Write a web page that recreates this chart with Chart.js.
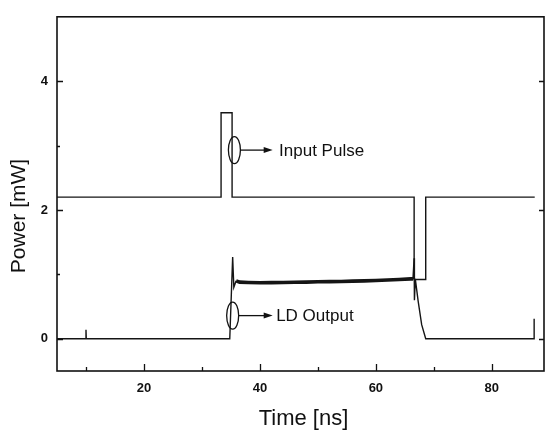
<!DOCTYPE html>
<html>
<head>
<meta charset="utf-8">
<title>Input Pulse / LD Output</title>
<script src="https://cdn.jsdelivr.net/npm/chart.js@4.4.1/dist/chart.umd.min.js"></script>
<style>
    body { margin: 0; background: #fff; }
    #wrap { width: 545px; height: 433px; }
</style>
</head>
<body>
<div id="wrap"><canvas id="pulseChart" width="545" height="433"></canvas></div>
<script>
// Axis ticks
const xTicks = [20, 40, 60, 80];
const xMinorTicks = [10, 30, 50, 70];
const yTicks = [0, 2, 4];
const yMinorTicks = [1, 3];

// Input pulse (square wave, mW vs ns)
const inputTime  = [5, 33.3, 33.3, 35.2, 35.2, 66.6, 66.6, 68.6, 68.6, 87.4];
const inputPower = [2.2, 2.2, 3.51, 3.51, 2.2, 2.2, 0.92, 0.92, 2.2, 2.2];

// LD output
const ldTime = [
    5, 9.95, 10, 10.05, 34.8, 35.3, 35.5, 35.9,
    36.5, 38, 40, 42, 44, 46, 48, 50, 52, 54, 56, 58, 60, 62, 64, 66,
    66.4, 66.6, 66.65, 66.8, 67.3, 67.9, 68.6, 87.3, 87.3
];
const ldPower = [
    0, 0, 0.14, 0, 0, 1.27, 0.8, 0.9,
    0.88, 0.875, 0.87, 0.872, 0.875, 0.878, 0.88, 0.885, 0.888, 0.89, 0.895, 0.9, 0.905, 0.912, 0.92, 0.93,
    0.93, 1.25, 0.6, 0.93, 0.58, 0.22, 0, 0, 0.31
];

// Annotation callouts (data coordinates)
const callouts = [
    { text: "Input Pulse", x: 35.6, y: 2.93, arrowTo: 42.2, textAt: 43.3 },
    { text: "LD Output",   x: 35.3, y: 0.36, arrowTo: 42.2, textAt: 42.8 }
];

const toPoints = (xs, ys) => xs.map((x, i) => ({ x: x, y: ys[i] }));

// Frame, inward ticks, callouts and axis titles
const decorations = {
    id: "decorations",
    afterDraw(chart) {
        const ctx = chart.ctx;
        const area = chart.chartArea;
        const xs = chart.scales.x;
        const ys = chart.scales.y;
        ctx.save();
        ctx.strokeStyle = "#111";
        ctx.fillStyle = "#111";

        // frame
        ctx.lineWidth = 1.6;
        ctx.strokeRect(area.left, area.top, area.right - area.left, area.bottom - area.top);

        // ticks
        ctx.lineWidth = 1.3;
        ctx.beginPath();
        xTicks.forEach(v => {
            const px = Math.round(xs.getPixelForValue(v)) + 0.5;
            ctx.moveTo(px, area.bottom); ctx.lineTo(px, area.bottom - 7);
        });
        xMinorTicks.forEach(v => {
            const px = Math.round(xs.getPixelForValue(v)) + 0.5;
            ctx.moveTo(px, area.bottom); ctx.lineTo(px, area.bottom - 4);
        });
        yTicks.forEach(v => {
            const py = Math.round(ys.getPixelForValue(v)) + 0.5;
            ctx.moveTo(area.left, py); ctx.lineTo(area.left + 6, py);
            ctx.moveTo(area.right, py); ctx.lineTo(area.right - 5, py);
        });
        yMinorTicks.forEach(v => {
            const py = Math.round(ys.getPixelForValue(v)) + 0.5;
            ctx.moveTo(area.left, py); ctx.lineTo(area.left + 3, py);
        });
        ctx.stroke();

        // callouts: ellipse + arrow + label
        ctx.font = "17px 'Liberation Sans', Arial, sans-serif";
        ctx.textBaseline = "middle";
        ctx.textAlign = "left";
        callouts.forEach(c => {
            const cx = xs.getPixelForValue(c.x);
            const cy = ys.getPixelForValue(c.y);
            ctx.lineWidth = 1.3;
            ctx.beginPath();
            ctx.ellipse(cx, cy, 6, 13.5, 0, 0, Math.PI * 2);
            ctx.stroke();
            const ax = xs.getPixelForValue(c.arrowTo);
            ctx.beginPath();
            ctx.moveTo(cx + 6, cy); ctx.lineTo(ax - 6, cy);
            ctx.stroke();
            ctx.beginPath();
            ctx.moveTo(ax, cy); ctx.lineTo(ax - 9, cy - 3); ctx.lineTo(ax - 9, cy + 3);
            ctx.closePath();
            ctx.fill();
            ctx.fillText(c.text, xs.getPixelForValue(c.textAt), cy + 1);
        });

        // axis titles
        ctx.textAlign = "center";
        ctx.font = "22px 'Liberation Sans', Arial, sans-serif";
        ctx.fillText("Time [ns]", (area.left + area.right) / 2 + 3, 419);
        ctx.font = "21px 'Liberation Sans', Arial, sans-serif";
        ctx.translate(19, 216);
        ctx.rotate(-Math.PI / 2);
        ctx.fillText("Power [mW]", 0, 0);
        ctx.restore();
    }
};

document.addEventListener("DOMContentLoaded", () => {
    const ctx = document.getElementById("pulseChart").getContext("2d");
    new Chart(ctx, {
        type: "scatter",
        data: {
            datasets: [
                {
                    label: "Input Pulse",
                    data: toPoints(inputTime, inputPower),
                    showLine: true,
                    borderColor: "#151515",
                    borderWidth: 1.4,
                    pointRadius: 0,
                    tension: 0
                },
                {
                    label: "LD Output",
                    data: toPoints(ldTime, ldPower),
                    showLine: true,
                    borderColor: "#151515",
                    borderWidth: 1.4,
                    pointRadius: 0,
                    tension: 0,
                    segment: {
                        // plateau is a noisy, thick trace
                        borderWidth: c => (c.p0.parsed.x >= 35.9 && c.p1.parsed.x <= 66.4) ? 3.6 : 1.4
                    }
                }
            ]
        },
        options: {
            responsive: false,
            animation: false,
            layout: { padding: { top: 12, right: 1, left: 0, bottom: 0 } },
            plugins: {
                legend: { display: false },
                tooltip: { enabled: false }
            },
            scales: {
                x: {
                    type: "linear",
                    min: 5,
                    max: 89,
                    grid: { display: false, drawTicks: false },
                    border: { display: false },
                    afterBuildTicks: scale => { scale.ticks = xTicks.map(v => ({ value: v })); },
                    afterFit: scale => { scale.height = 62; },
                    ticks: {
                        padding: 10,
                        color: "#111",
                        maxRotation: 0,
                        font: { family: "'Liberation Sans', Arial, sans-serif", size: 13, weight: "bold" }
                    }
                },
                y: {
                    type: "linear",
                    min: -0.5,
                    max: 5,
                    grid: { display: false, drawTicks: false },
                    border: { display: false },
                    afterBuildTicks: scale => { scale.ticks = yTicks.map(v => ({ value: v })); },
                    afterFit: scale => { scale.width = 57; },
                    ticks: {
                        padding: 9,
                        color: "#111",
                        font: { family: "'Liberation Sans', Arial, sans-serif", size: 13, weight: "bold" }
                    }
                }
            }
        },
        plugins: [decorations]
    });
});
</script>
</body>
</html>
